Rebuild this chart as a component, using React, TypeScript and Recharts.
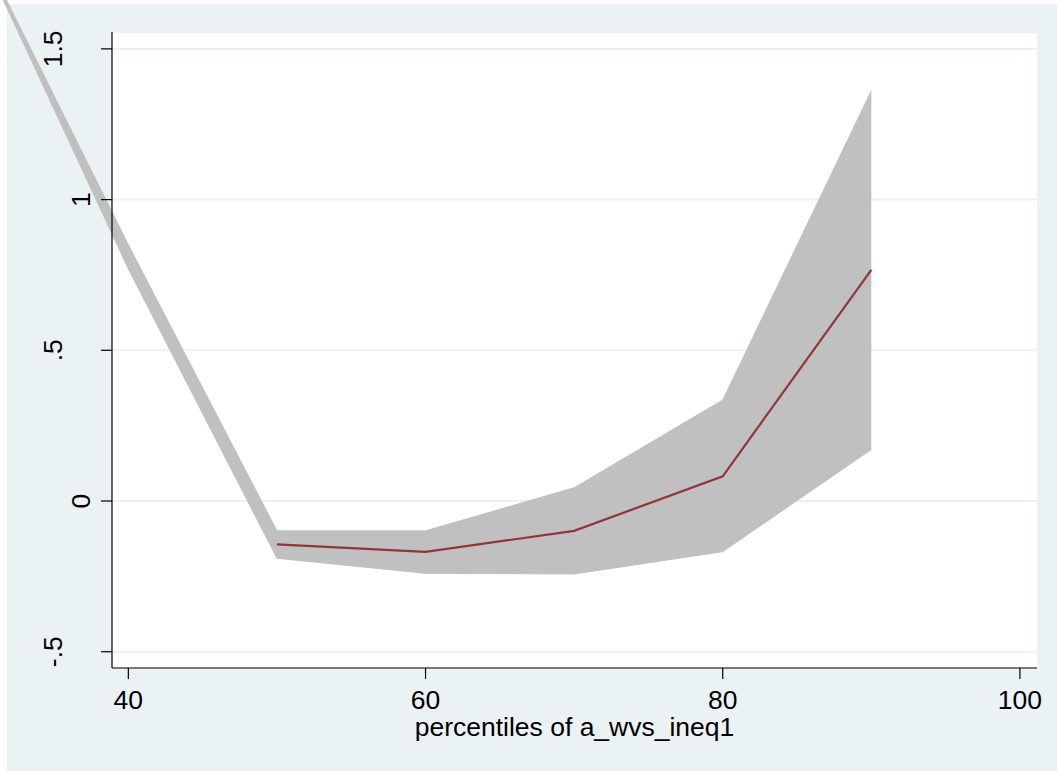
import { Area, CartesianGrid, ComposedChart, Line, XAxis, YAxis } from "recharts";

// percentile cut points and the band / mean
const pct = [30, 40, 50, 60, 70, 80, 90];
const lower = [1.83, 0.77, -0.19, -0.24, -0.242, -0.168, 0.171];
const upper = [1.84, 0.85, -0.099, -0.099, 0.044, 0.335, 1.361];
const mean: (number | null)[] = [null, null, -0.144, -0.169, -0.099, 0.082, 0.767];

const xTicks = [40, 60, 80, 100];
const yTicks = [-0.5, 0, 0.5, 1, 1.5];

const data = pct.map((p, i) => ({ p, band: [lower[i], upper[i]], mean: mean[i] }));

const FONT = "'Liberation Sans', Arial, sans-serif";
const BG = "#eaf2f3";

const fmtY = (v: number) => String(v).replace(/^(-?)0\./, "$1.");

function YTick(props: any) {
  const { x, y, payload, index } = props;
  // labels are staggered, alternating outer / inner
  const bx = index % 2 === 0 ? x - 38.5 : x - 11;
  return (
    <text
      x={bx}
      y={y}
      transform={`rotate(-90, ${bx}, ${y})`}
      textAnchor="middle"
      fontFamily={FONT}
      fontSize={26.5}
      fill="#000"
    >
      {fmtY(payload.value)}
    </text>
  );
}

function XTick(props: any) {
  const { x, y, payload } = props;
  return (
    <text x={x} y={y + 30} textAnchor="middle" fontFamily={FONT} fontSize={26.5} fill="#000">
      {payload.value}
    </text>
  );
}

export default function App() {
  return (
    <div style={{ position: "absolute", left: 0, top: 0, width: 1057, height: 771, background: "#fff" }}>
      <style>{`body{margin:0} .recharts-area, .recharts-area *{clip-path:none !important} .recharts-surface{overflow:visible}`}</style>
      <div style={{ position: "absolute", left: 7, top: 4, right: 0, bottom: 0, background: BG }} />
      <div style={{ position: "absolute", left: 0, top: 0 }}>
        <ComposedChart width={1057} height={771} data={data} margin={{ top: 32, right: 20, bottom: 33, left: 0 }}>
          <CartesianGrid vertical={false} stroke={BG} strokeWidth={2} fill="#fff" fillOpacity={1} />
          <XAxis
            dataKey="p"
            type="number"
            domain={[38.9, 101.15]}
            allowDataOverflow
            ticks={xTicks}
            interval={0}
            height={70}
            tickSize={11}
            tickMargin={0}
            tickLine={{ stroke: "#000", strokeWidth: 1.2 }}
            axisLine={{ stroke: "#000", strokeWidth: 1.2 }}
            tick={<XTick />}
            label={{
              content: (p: any) => {
                const vb = p.viewBox;
                return (
                  <text
                    x={vb.x + vb.width / 2}
                    y={vb.y + 68}
                    textAnchor="middle"
                    fontFamily={FONT}
                    fontSize={26.5}
                    fill="#000"
                  >
                    percentiles of a_wvs_ineq1
                  </text>
                );
              },
            }}
          />
          <YAxis
            type="number"
            domain={[-0.554, 1.556]}
            allowDataOverflow
            ticks={yTicks}
            interval={0}
            width={112}
            tickSize={11}
            tickMargin={0}
            tickLine={{ stroke: "#000", strokeWidth: 1.2 }}
            axisLine={{ stroke: "#000", strokeWidth: 1.2 }}
            tick={<YTick />}
          />
          <Area
            dataKey="band"
            type="linear"
            stroke="#c0c0c0"
            strokeWidth={1}
            fill="#c0c0c0"
            fillOpacity={1}
            isAnimationActive={false}
            dot={false}
            activeDot={false}
          />
          <Line
            dataKey="mean"
            type="linear"
            stroke="#90353b"
            strokeWidth={2.2}
            dot={false}
            activeDot={false}
            connectNulls={false}
            isAnimationActive={false}
          />
        </ComposedChart>
      </div>
    </div>
  );
}
